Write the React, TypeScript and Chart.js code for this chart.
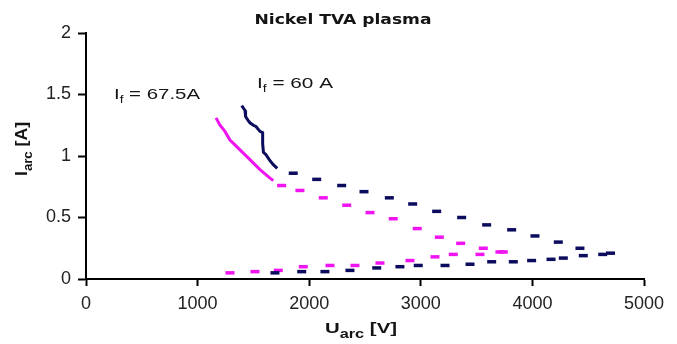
import React, { useEffect, useRef } from "react";
import { Chart, registerables } from "chart.js";

Chart.register(...registerables);

const TITLE = "Nickel TVA plasma";
const X_TICKS = [0, 1000, 2000, 3000, 4000, 5000];
const Y_TICKS = [0, 0.5, 1, 1.5, 2];

// I_f = 60 A : continuous high-current part of the sweep
const u60Solid = [1395, 1410, 1425, 1430, 1452, 1469, 1500, 1523, 1559, 1583, 1583, 1590, 1613, 1642, 1678, 1714];
const i60Solid = [1.41, 1.39, 1.37, 1.32, 1.29, 1.27, 1.25, 1.24, 1.2, 1.19, 1.1, 1.03, 1.01, 0.97, 0.93, 0.9];
// I_f = 60 A : upper branch (sparse samples)
const u60Upper = [1857, 2067, 2291, 2491, 2718, 2927, 3142, 3366, 3590, 3814, 4023, 4232, 4426, 4630, 4700];
const i60Upper = [0.86, 0.81, 0.76, 0.71, 0.66, 0.61, 0.55, 0.5, 0.44, 0.4, 0.35, 0.3, 0.25, 0.2, 0.21];
// I_f = 60 A : lower branch
const u60Lower = [1693, 1933, 2141, 2365, 2605, 2813, 2977, 3217, 3441, 3635, 3829, 3993, 4167, 4277, 4456];
const i60Lower = [0.05, 0.06, 0.06, 0.07, 0.09, 0.1, 0.11, 0.11, 0.12, 0.14, 0.14, 0.15, 0.16, 0.17, 0.19];

// I_f = 67.5 A : continuous part
const u675Solid = [1165, 1201, 1245, 1290, 1335, 1380, 1469, 1559, 1649, 1678];
const i675Solid = [1.31, 1.25, 1.2, 1.13, 1.09, 1.05, 0.97, 0.89, 0.82, 0.8];
// I_f = 67.5 A : upper branch
const u675Upper = [1753, 1917, 2126, 2336, 2545, 2753, 2968, 3166, 3357, 3560, 3739];
const i675Upper = [0.76, 0.72, 0.66, 0.6, 0.54, 0.49, 0.41, 0.34, 0.29, 0.25, 0.22];
// I_f = 67.5 A : lower branch
const u675Lower = [1290, 1514, 1723, 1947, 2186, 2410, 2634, 2903, 3127, 3291, 3530, 3709];
const i675Lower = [0.05, 0.06, 0.07, 0.1, 0.11, 0.11, 0.13, 0.15, 0.18, 0.2, 0.2, 0.22];

const NAVY = "#0c0c5e";
const MAGENTA = "#f014f0";
const TEXT = "#141414";

const pts = (u: number[], i: number[]) => u.map((x, k) => ({ x, y: i[k] }));

type Run = { text: string; size: number; sub?: boolean };

// Draws a sequence of text runs (with optional subscripts) on one baseline,
// horizontally fitted to the given width.
function drawRuns(
  ctx: CanvasRenderingContext2D,
  runs: Run[],
  x: number,
  y: number,
  opts: { weight: string; family: string; width: number; align: "left" | "center" }
) {
  let natural = 0;
  const widths: number[] = [];
  for (const r of runs) {
    ctx.font = `${opts.weight} ${r.size}px ${opts.family}`;
    const w = ctx.measureText(r.text).width;
    widths.push(w);
    natural += w;
  }
  const sx = opts.width / natural;
  ctx.save();
  ctx.translate(x, y);
  ctx.scale(sx, 1);
  ctx.textBaseline = "alphabetic";
  ctx.textAlign = "left";
  ctx.fillStyle = TEXT;
  let cx = opts.align === "center" ? -natural / 2 : 0;
  runs.forEach((r, k) => {
    ctx.font = `${opts.weight} ${r.size}px ${opts.family}`;
    ctx.fillText(r.text, cx, r.sub ? Math.round(r.size * 0.4) : 0);
    cx += widths[k];
  });
  ctx.restore();
}

const SANS = '"Liberation Sans", Arial, sans-serif';

const labelsPlugin = {
  id: "arcLabels",
  afterDraw(chart: Chart) {
    const ctx = chart.ctx;
    drawRuns(ctx, [{ text: TITLE, size: 14 }], 343, 24, {
      weight: "bold",
      family: '"DejaVu Sans", Verdana, sans-serif',
      width: 177,
      align: "center",
    });
    drawRuns(
      ctx,
      [
        { text: "I", size: 15 },
        { text: "f", size: 10, sub: true },
        { text: " = 67.5A", size: 15 },
      ],
      114,
      99,
      { weight: "normal", family: SANS, width: 86, align: "left" }
    );
    drawRuns(
      ctx,
      [
        { text: "I", size: 15 },
        { text: "f", size: 10, sub: true },
        { text: " = 60 A", size: 15 },
      ],
      257,
      88,
      { weight: "normal", family: SANS, width: 76, align: "left" }
    );
    drawRuns(
      ctx,
      [
        { text: "U", size: 15 },
        { text: "arc", size: 12, sub: true },
        { text: " [V]", size: 15 },
      ],
      325,
      333,
      { weight: "bold", family: SANS, width: 72, align: "left" }
    );
    ctx.save();
    ctx.translate(27, 149);
    ctx.rotate(-Math.PI / 2);
    drawRuns(
      ctx,
      [
        { text: "I", size: 16 },
        { text: "arc", size: 12, sub: true },
        { text: " [A]", size: 16 },
      ],
      0,
      0,
      { weight: "bold", family: SANS, width: 54, align: "center" }
    );
    ctx.restore();
  },
};

const solid = (label: string, data: { x: number; y: number }[], color: string) => ({
  label,
  data,
  showLine: true,
  borderColor: color,
  backgroundColor: color,
  borderWidth: 3,
  pointRadius: 0,
  tension: 0,
});

const dashes = (label: string, data: { x: number; y: number }[], color: string) => ({
  label,
  data,
  showLine: false,
  borderColor: color,
  backgroundColor: color,
  pointStyle: "line" as const,
  pointRadius: 4.5,
  pointBorderWidth: 3.5,
});

export default function App() {
  const ref = useRef<HTMLCanvasElement>(null);

  useEffect(() => {
    if (!ref.current) return;
    const chart = new Chart(ref.current, {
      type: "scatter",
      data: {
        datasets: [
          solid("60 A", pts(u60Solid, i60Solid), NAVY),
          dashes("60 A upper", pts(u60Upper, i60Upper), NAVY),
          dashes("60 A lower", pts(u60Lower, i60Lower), NAVY),
          solid("67.5 A", pts(u675Solid, i675Solid), MAGENTA),
          dashes("67.5 A upper", pts(u675Upper, i675Upper), MAGENTA),
          dashes("67.5 A lower", pts(u675Lower, i675Lower), MAGENTA),
        ],
      },
      options: {
        responsive: false,
        animation: false,
        devicePixelRatio: 1,
        layout: { padding: { top: 33, right: 33, left: 0, bottom: 0 } },
        plugins: {
          legend: { display: false },
          tooltip: { enabled: false },
          title: { display: false },
        },
        scales: {
          x: {
            type: "linear",
            min: X_TICKS[0],
            max: X_TICKS[X_TICKS.length - 1],
            afterBuildTicks: (s: any) => {
              s.ticks = X_TICKS.map((v) => ({ value: v }));
            },
            ticks: {
              callback: (v: any) => String(v),
              font: { size: 18, family: SANS },
              color: "#222",
              padding: 7,
              maxRotation: 0,
            },
            grid: {
              display: true,
              drawOnChartArea: false,
              drawTicks: true,
              tickLength: 7,
              tickWidth: 2,
              tickColor: "#000",
            },
            border: { display: true, color: "#000", width: 2 },
            afterFit: (s: any) => {
              s.height = 65;
              s.paddingLeft = 0;
              s.paddingRight = 0;
            },
          },
          y: {
            type: "linear",
            min: Y_TICKS[0],
            max: Y_TICKS[Y_TICKS.length - 1],
            afterBuildTicks: (s: any) => {
              s.ticks = Y_TICKS.map((v) => ({ value: v }));
            },
            ticks: {
              callback: (v: any) => String(v),
              font: { size: 18, family: SANS },
              color: "#222",
              padding: 7,
            },
            grid: {
              display: true,
              drawOnChartArea: false,
              drawTicks: true,
              tickLength: 8,
              tickWidth: 2,
              tickColor: "#000",
            },
            border: { display: true, color: "#000", width: 2 },
            afterFit: (s: any) => {
              s.width = 86;
              s.paddingTop = 0;
              s.paddingBottom = 0;
            },
          },
        },
      },
      plugins: [labelsPlugin],
    });
    return () => chart.destroy();
  }, []);

  return (
    <div style={{ position: "fixed", left: 0, top: 0, width: 677, height: 344, background: "#fff" }}>
      <canvas ref={ref} width={677} height={344} />
    </div>
  );
}
